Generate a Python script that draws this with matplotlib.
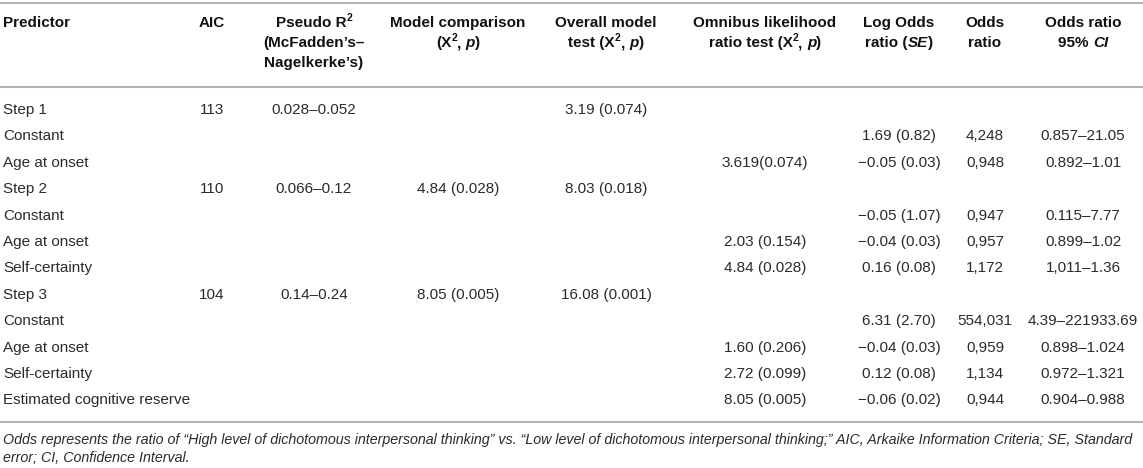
import matplotlib
matplotlib.use('Agg')
import matplotlib.pyplot as plt

plt.rcParams['font.family'] = ['Liberation Sans', 'DejaVu Sans']

# table content
predictors = ['Step 1', 'Constant', 'Age at onset', 'Step 2', 'Constant', 'Age at onset',
              'Self-certainty', 'Step 3', 'Constant', 'Age at onset', 'Self-certainty',
              'Estimated cognitive reserve']
aic = ['113', '', '', '110', '', '', '', '104', '', '', '', '']
pseudo_r2 = ['0.028–0.052', '', '', '0.066–0.12', '', '', '', '0.14–0.24', '', '', '', '']
model_comparison = ['', '', '', '4.84 (0.028)', '', '', '', '8.05 (0.005)', '', '', '', '']
overall_test = ['3.19 (0.074)', '', '', '8.03 (0.018)', '', '', '', '16.08 (0.001)', '', '', '', '']
omnibus = ['', '', '3.619(0.074)', '', '', '2.03 (0.154)', '4.84 (0.028)', '', '',
           '1.60 (0.206)', '2.72 (0.099)', '8.05 (0.005)']
log_odds = ['', '1.69 (0.82)', '−0.05 (0.03)', '', '−0.05 (1.07)', '−0.04 (0.03)',
            '0.16 (0.08)', '', '6.31 (2.70)', '−0.04 (0.03)', '0.12 (0.08)', '−0.06 (0.02)']
odds = ['', '4,248', '0,948', '', '0,947', '0,957', '1,172', '', '554,031', '0,959',
        '1,134', '0,944']
odds_ci = ['', '0.857–21.05', '0.892–1.01', '', '0.115–7.77', '0.899–1.02', '1,011–1.36',
           '', '4.39–221933.69', '0.898–1.024', '0.972–1.321', '0.904–0.988']

# (weight, style, superscript)
B, I, BI, SUP = ('bold', 'normal', 0), ('normal', 'italic', 0), ('bold', 'italic', 0), ('bold', 'normal', 1)
headers = [
    [[('Predictor', B)]],
    [[('AIC', B)]],
    [[('Pseudo R', B), ('2', SUP)], [('(McFadden’s–', B)], [('Nagelkerke’s)', B)]],
    [[('Model comparison', B)], [('(X', B), ('2', SUP), (', ', B), ('p', BI), (')', B)]],
    [[('Overall model', B)], [('test (X', B), ('2', SUP), (', ', B), ('p', BI), (')', B)]],
    [[('Omnibus likelihood', B)], [('ratio test (X', B), ('2', SUP), (', ', B), ('p', BI), (')', B)]],
    [[('Log Odds', B)], [('ratio (', B), ('SE', BI), (')', B)]],
    [[('Odds', B)], [('ratio', B)]],
    [[('Odds ratio', B)], [('95% ', B), ('CI', BI)]],
]
note1 = [('Odds represents the ratio of “High level of dichotomous interpersonal thinking” vs. '
          '“Low level of dichotomous interpersonal thinking;” AIC, Arkaike Information Criteria; '
          'SE, Standard', I)]
note2 = [('error; CI, Confidence Interval.', I)]

col_x = [3, 212, 314, 458, 606, 765, 899, 985, 1083]
row_y0, row_dy = 110, 26.4
size = 11
txt_color = '#2b2b2b'
line_color = '#b4b4b4'

fig = plt.figure(figsize=(11.43, 4.68), dpi=100)
ax = fig.add_axes([0, 0, 1, 1])
ax.set_xlim(0, 1143)
ax.set_ylim(468, 0)
ax.axis('off')
renderer = fig.canvas.get_renderer()


def text_width(s, fs, weight, style):
    t1 = ax.text(0, 0, '|' + s + '|', fontsize=fs, fontweight=weight, fontstyle=style)
    t2 = ax.text(0, 0, '||', fontsize=fs, fontweight=weight, fontstyle=style)
    w = t1.get_window_extent(renderer).width - t2.get_window_extent(renderer).width
    t1.remove()
    t2.remove()
    return w


def rich(x, y, runs, ha='center', fs=size, color=txt_color):
    sizes = [fs * 0.68 if st[2] else fs for s, st in runs]
    widths = [text_width(s, f, st[0], st[1]) for (s, st), f in zip(runs, sizes)]
    total = sum(widths)
    start = x - total / 2 if ha == 'center' else x
    for (s, st), w, f in zip(runs, widths, sizes):
        yy = y - 5 if st[2] else y
        ax.text(start, yy, s, fontsize=f, fontweight=st[0], fontstyle=st[1],
                color=color, ha='left', va='center')
        start += w


# rules
for yy in [3, 87, 422]:
    ax.plot([0, 1143], [yy, yy], color=line_color, lw=1.5, solid_capstyle='butt')

# header
for j, lines in enumerate(headers):
    for k, runs in enumerate(lines):
        rich(col_x[j], 23 + 20 * k, runs, ha='left' if j == 0 else 'center', color='#111111')

# body
columns = [predictors, aic, pseudo_r2, model_comparison, overall_test, omnibus,
           log_odds, odds, odds_ci]
for j, col in enumerate(columns):
    for i, val in enumerate(col):
        if val:
            ax.text(col_x[j], row_y0 + row_dy * i, val, fontsize=size, color=txt_color,
                    ha='left' if j == 0 else 'center', va='center')

# footnote, sized so the first line fills the width
w10 = text_width(note1[0][0], 10, 'normal', 'italic')
fs_note = 10 * 1137 / w10
rich(3, 440, note1, ha='left', fs=fs_note)
rich(3, 458, note2, ha='left', fs=fs_note)

fig.savefig('out.png', dpi=100)
